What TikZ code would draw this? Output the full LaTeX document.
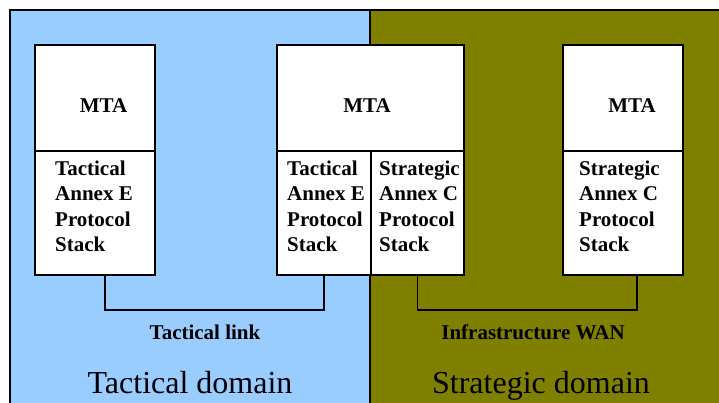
\documentclass[tikz,border=0pt]{standalone}
\usepackage{fontspec}
\setmainfont{Liberation Serif}
\usepackage{tikz}
\usetikzlibrary{positioning}
\definecolor{celeste}{RGB}{153, 204, 255}
\definecolor{oliva}{RGB}{128, 128, 0}
\tikzset{
    mtabox/.style={draw, rectangle, fill=white, line width=1.1pt, inner sep=0pt, outer sep=0pt, minimum height=106pt},
    stackbox/.style={draw, rectangle, fill=white, line width=1.1pt, inner sep=0pt, outer sep=0pt, minimum height=124pt},
    mtatext/.style={anchor=base, inner sep=0pt, font=\fontsize{21}{25.5}\selectfont\bfseries},
    stacktext/.style={anchor=north west, inner sep=0pt, align=left, font=\fontsize{21}{25.5}\selectfont\bfseries},
    linktext/.style={anchor=base, inner sep=0pt, font=\fontsize{21}{25.5}\selectfont\bfseries},
    domaintext/.style={anchor=base, inner sep=0pt, font=\fontsize{32}{36}\selectfont},
    conn/.style={-, black, line width=1.2pt},
    frame/.style={black, line width=1.5pt},
}
\begin{document}
\begin{tikzpicture}[x=1pt, y=-1pt]
    \useasboundingbox (0,0) rectangle (719,403);
    % domains
    \fill[celeste] (10,10) rectangle (370,403);
    \fill[oliva] (370,10) rectangle (719,403);
    \draw[frame] (10,403) -- (10,10) -- (719,10);
    \draw[frame] (370,10) -- (370,403);

    % stations
    \node[mtabox, minimum width=120pt] (mtaA) at (95,98) {};
    \node[stackbox, minimum width=120pt, below=0pt of mtaA] (stackA) {};

    \node[mtabox, minimum width=187pt] (mtaB) at (370.5,98) {};
    \node[stackbox, minimum width=94pt, below=0pt of mtaB.south west, anchor=north west] (stackB1) {};
    \node[stackbox, minimum width=93pt, below=0pt of mtaB.south east, anchor=north east] (stackB2) {};

    \node[mtabox, minimum width=120pt] (mtaC) at (623,98) {};
    \node[stackbox, minimum width=120pt, below=0pt of mtaC] (stackC) {};

    % texts
    \node[mtatext] (lblA) at (103.5,113) {MTA};
    \node[mtatext] (lblB) at (367,113) {MTA};
    \node[mtatext] (lblC) at (632,113) {MTA};

    \node[stacktext] (txtA) at (55,160.5) {Tactical\\Annex E\\Protocol\\Stack};
    \node[stacktext] (txtB1) at (287,160.5) {Tactical\\Annex E\\Protocol\\Stack};
    \node[stacktext] (txtB2) at (379,160.5) {Strategic\\Annex C\\Protocol\\Stack};
    \node[stacktext] (txtC) at (579,160.5) {Strategic\\Annex C\\Protocol\\Stack};

    % links
    \coordinate (tlA) at ([xshift=10pt]stackA.south);
    \coordinate (wanC) at ([xshift=14pt]stackC.south);
    \draw[conn] (tlA) -- ++(0,35) -| (stackB1.south);
    \draw[conn] (stackB2.south) -- ++(0,35) -| (wanC);

    \node[linktext] (tlink) at (205,339) {Tactical link};
    \node[linktext] (wan) at (533,339) {Infrastructure WAN};

    \node[domaintext] (tdom) at (190,393) {Tactical domain};
    \node[domaintext] (sdom) at (541,393) {Strategic domain};
\end{tikzpicture}
\end{document}
